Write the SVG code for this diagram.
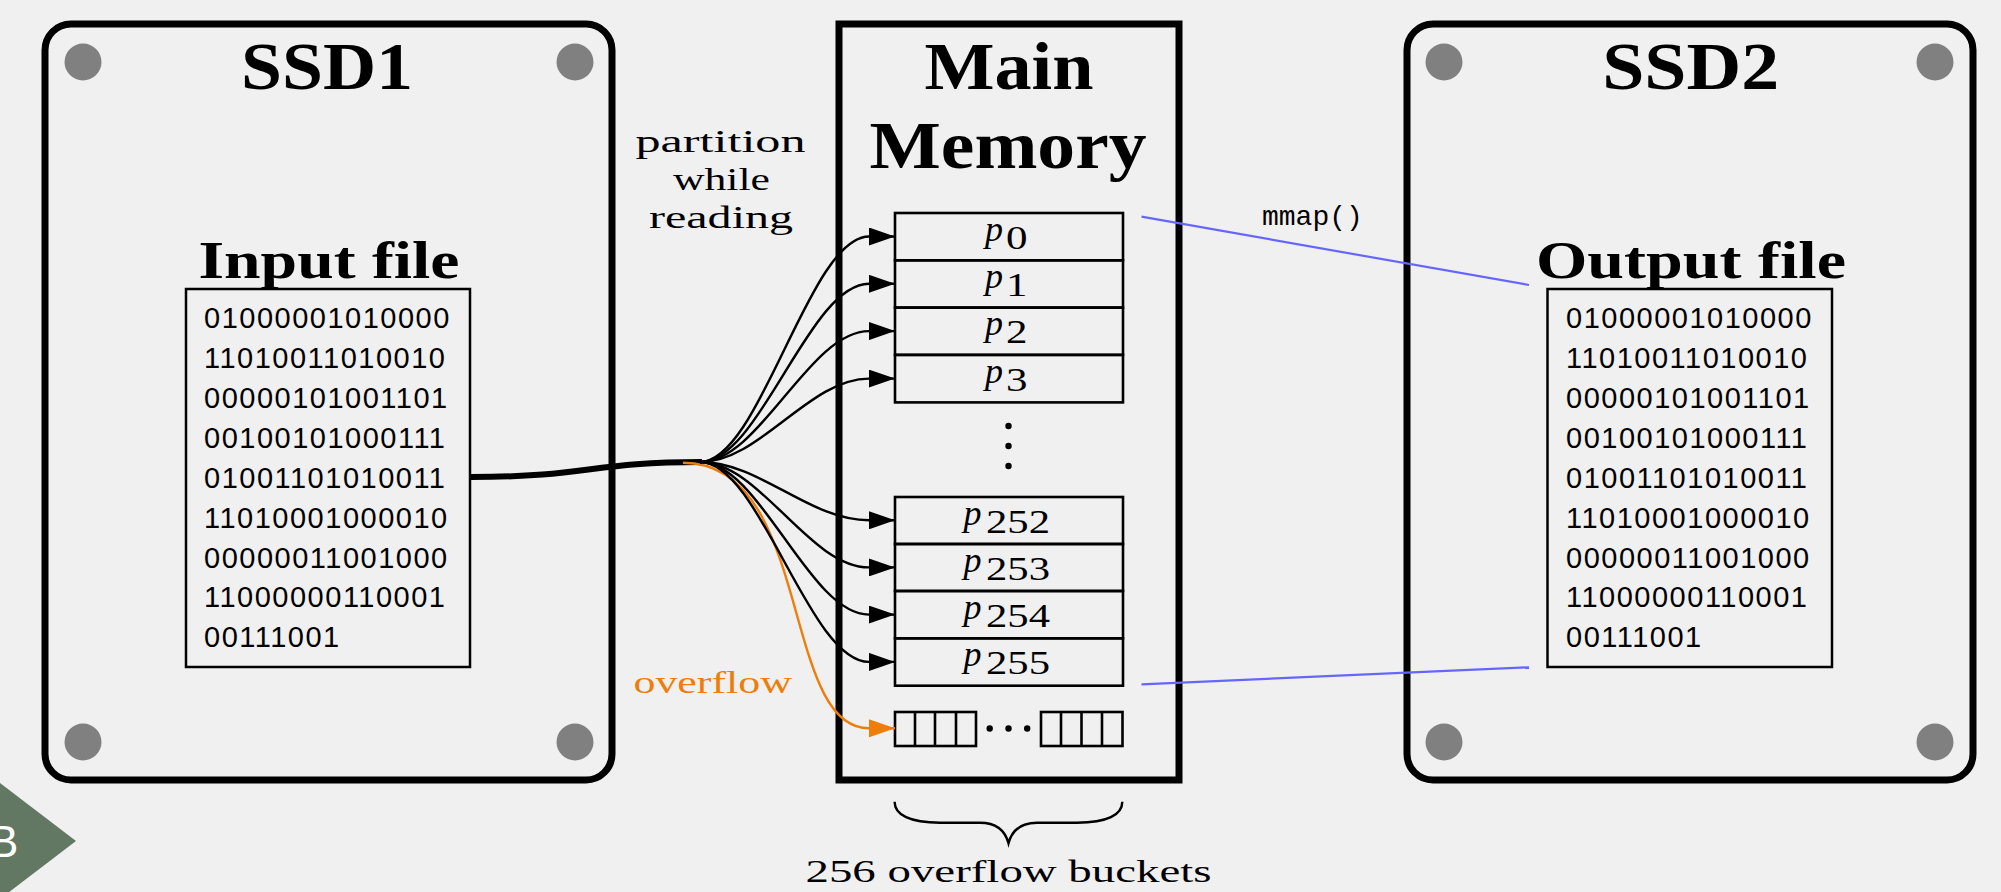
<svg xmlns="http://www.w3.org/2000/svg" width="2001" height="892" viewBox="0 0 2001 892">
  <style>
    .bg { fill: #f0f0f0; }
    .drive { fill: #f0f0f0; stroke: #000; stroke-width: 7; }
    .screw { fill: #808080; }
    .file { fill: none; stroke: #000; stroke-width: 2.5; }
    .cell { fill: none; stroke: #000; stroke-width: 2.6; }
    .title { font-family: "Liberation Serif", serif; font-weight: bold; font-size: 68px; fill: #000; }
    .sub { font-family: "Liberation Serif", serif; font-weight: bold; font-size: 53px; fill: #000; }
    .bits { font-family: "Liberation Sans", Arial, sans-serif; font-size: 29px; letter-spacing: 1.5px; fill: #000; }
    .note { font-family: "Liberation Serif", serif; font-size: 32px; fill: #000; }
    .pv { font-family: "Liberation Serif", serif; font-style: italic; font-size: 36px; fill: #000; }
    .ps { font-family: "Liberation Serif", serif; font-size: 33px; fill: #000; }
    .mono { font-family: "Liberation Mono", "Courier New", monospace; font-size: 28px; fill: #000; }
    .fan { fill: none; stroke: #000; stroke-width: 2.4; }
    .ovf { fill: none; stroke: #ee7d0a; stroke-width: 2.4; }
    .map { fill: none; stroke: #6666ff; stroke-width: 2.2; }
  </style>
  <defs>
    <marker id="head" markerUnits="userSpaceOnUse" markerWidth="26" markerHeight="18" refX="26" refY="9" orient="auto">
      <path d="M0,0 L26,9 L0,18 Z" fill="#000"/>
    </marker>
    <marker id="head-orange" markerUnits="userSpaceOnUse" markerWidth="26" markerHeight="18" refX="26" refY="9" orient="auto">
      <path d="M0,0 L26,9 L0,18 Z" fill="#ee7d0a"/>
    </marker>
  </defs>

  <rect class="bg" x="0" y="0" width="2001" height="892"/>

  <!-- slide corner tab -->
  <g id="corner-tab">
    <polygon points="0,783 76,841 0,899" fill="#637863"/>
    <text x="-11" y="857" font-family="Liberation Sans, Arial, sans-serif" font-size="44" fill="#fff">B</text>
  </g>

  <!-- source drive -->
  <g id="ssd1">
    <rect class="drive" x="45" y="24" width="567" height="756" rx="26" ry="26"/>
    <circle class="screw" cx="83" cy="62" r="18.5"/>
    <circle class="screw" cx="575" cy="62" r="18.5"/>
    <circle class="screw" cx="83" cy="742" r="18.5"/>
    <circle class="screw" cx="575" cy="742" r="18.5"/>
    <text class="title" x="327" y="89" text-anchor="middle" textLength="172" lengthAdjust="spacingAndGlyphs">SSD1</text>
  </g>

  <g id="input-file">
    <text class="sub" x="329" y="278" text-anchor="middle" textLength="261" lengthAdjust="spacingAndGlyphs">Input file</text>
    <rect class="file" x="186" y="289" width="284" height="378"/>
    <text class="bits" x="204" y="328">01000001010000</text>
    <text class="bits" x="204" y="368">11010011010010</text>
    <text class="bits" x="204" y="408">00000101001101</text>
    <text class="bits" x="204" y="448">00100101000111</text>
    <text class="bits" x="204" y="488">01001101010011</text>
    <text class="bits" x="204" y="528">11010001000010</text>
    <text class="bits" x="204" y="568">00000011001000</text>
    <text class="bits" x="204" y="607">11000000110001</text>
    <text class="bits" x="204" y="647">00111001</text>
  </g>

  <!-- main memory -->
  <g id="main-memory">
    <rect class="drive" x="839" y="24" width="340" height="756"/>
    <text class="title" x="1009" y="89" text-anchor="middle" textLength="169" lengthAdjust="spacingAndGlyphs">Main</text>
    <text class="title" x="1008" y="168" text-anchor="middle" textLength="277" lengthAdjust="spacingAndGlyphs">Memory</text>
  </g>

  <g id="partitions">
    <rect class="cell" x="895" y="213" width="228" height="47.3"/>
    <rect class="cell" x="895" y="260.3" width="228" height="47.3"/>
    <rect class="cell" x="895" y="307.6" width="228" height="47.3"/>
    <rect class="cell" x="895" y="354.9" width="228" height="47.5"/>
    <text class="pv" x="985" y="240.5">p</text><text class="ps" x="1006" y="248.5" textLength="21.5" lengthAdjust="spacingAndGlyphs">0</text>
    <text class="pv" x="985" y="287.8">p</text><text class="ps" x="1006" y="295.8" textLength="21.5" lengthAdjust="spacingAndGlyphs">1</text>
    <text class="pv" x="985" y="335.1">p</text><text class="ps" x="1006" y="343.1" textLength="21.5" lengthAdjust="spacingAndGlyphs">2</text>
    <text class="pv" x="985" y="382.6">p</text><text class="ps" x="1006" y="390.6" textLength="21.5" lengthAdjust="spacingAndGlyphs">3</text>

    <circle cx="1008.5" cy="426" r="3.2"/>
    <circle cx="1008.5" cy="446" r="3.2"/>
    <circle cx="1008.5" cy="466" r="3.2"/>

    <rect class="cell" x="895" y="497" width="228" height="47"/>
    <rect class="cell" x="895" y="544" width="228" height="47"/>
    <rect class="cell" x="895" y="591" width="228" height="47.3"/>
    <rect class="cell" x="895" y="638.3" width="228" height="47.4"/>
    <text class="pv" x="963.5" y="524.5">p</text><text class="ps" x="986" y="532.5" textLength="64" lengthAdjust="spacingAndGlyphs">252</text>
    <text class="pv" x="963.5" y="571.5">p</text><text class="ps" x="986" y="579.5" textLength="64" lengthAdjust="spacingAndGlyphs">253</text>
    <text class="pv" x="963.5" y="618.7">p</text><text class="ps" x="986" y="626.7" textLength="64" lengthAdjust="spacingAndGlyphs">254</text>
    <text class="pv" x="963.5" y="666">p</text><text class="ps" x="986" y="674" textLength="64" lengthAdjust="spacingAndGlyphs">255</text>
  </g>

  <g id="overflow-buckets">
    <rect class="cell" x="895" y="712" width="81" height="34"/>
    <line class="cell" x1="915" y1="712" x2="915" y2="746"/>
    <line class="cell" x1="935" y1="712" x2="935" y2="746"/>
    <line class="cell" x1="956" y1="712" x2="956" y2="746"/>
    <circle cx="989.7" cy="728.5" r="3.2"/>
    <circle cx="1008.5" cy="728.5" r="3.2"/>
    <circle cx="1027.2" cy="728.5" r="3.2"/>
    <rect class="cell" x="1041" y="712" width="81.5" height="34"/>
    <line class="cell" x1="1061" y1="712" x2="1061" y2="746"/>
    <line class="cell" x1="1081.5" y1="712" x2="1081.5" y2="746"/>
    <line class="cell" x1="1102" y1="712" x2="1102" y2="746"/>
    <path d="M894.6,801.7 C894.6,815 910,822.7 940,822.7 L980,822.7 C995,822.7 1005,830 1008.5,843.3 C1012,830 1022,822.7 1037,822.7 L1077,822.7 C1107,822.7 1122.3,815 1122.3,801.7" fill="none" stroke="#000" stroke-width="2.4"/>
    <text class="note" x="1008.5" y="881.5" text-anchor="middle" textLength="406" lengthAdjust="spacingAndGlyphs">256 overflow buckets</text>
  </g>

  <!-- destination drive -->
  <g id="ssd2">
    <rect class="drive" x="1407" y="24" width="566" height="756" rx="26" ry="26"/>
    <circle class="screw" cx="1444" cy="62" r="18.5"/>
    <circle class="screw" cx="1935" cy="62" r="18.5"/>
    <circle class="screw" cx="1444" cy="742" r="18.5"/>
    <circle class="screw" cx="1935" cy="742" r="18.5"/>
    <text class="title" x="1690.7" y="89" text-anchor="middle" textLength="177" lengthAdjust="spacingAndGlyphs">SSD2</text>
  </g>

  <g id="output-file">
    <text class="sub" x="1691" y="278" text-anchor="middle" textLength="310" lengthAdjust="spacingAndGlyphs">Output file</text>
    <rect class="file" x="1547.5" y="289" width="284.5" height="378"/>
    <text class="bits" x="1566" y="328">01000001010000</text>
    <text class="bits" x="1566" y="368">11010011010010</text>
    <text class="bits" x="1566" y="408">00000101001101</text>
    <text class="bits" x="1566" y="448">00100101000111</text>
    <text class="bits" x="1566" y="488">01001101010011</text>
    <text class="bits" x="1566" y="528">11010001000010</text>
    <text class="bits" x="1566" y="568">00000011001000</text>
    <text class="bits" x="1566" y="607">11000000110001</text>
    <text class="bits" x="1566" y="647">00111001</text>
  </g>

  <!-- connectors -->
  <g id="connectors">
    <path d="M471,477 C590,477 590,462 702,462" fill="none" stroke="#000" stroke-width="6"/>
    <path class="ovf" d="M683,462.7 C813,462.7 780,728.3 869,728.3 L895,728.3" marker-end="url(#head-orange)"/>
    <path class="fan" d="M700,462 C760,462 809,236.5 869,236.5 L895,236.5" marker-end="url(#head)"/>
    <path class="fan" d="M700,462 C760,462 809,283.8 869,283.8 L895,283.8" marker-end="url(#head)"/>
    <path class="fan" d="M700,462 C760,462 809,331.1 869,331.1 L895,331.1" marker-end="url(#head)"/>
    <path class="fan" d="M700,462 C760,462 809,378.6 869,378.6 L895,378.6" marker-end="url(#head)"/>
    <path class="fan" d="M700,462 C760,462 809,520.3 869,520.3 L895,520.3" marker-end="url(#head)"/>
    <path class="fan" d="M700,462 C760,462 809,567.4 869,567.4 L895,567.4" marker-end="url(#head)"/>
    <path class="fan" d="M700,462 C760,462 809,614.6 869,614.6 L895,614.6" marker-end="url(#head)"/>
    <path class="fan" d="M700,462 C760,462 809,661.9 869,661.9 L895,661.9" marker-end="url(#head)"/>
    <line class="map" x1="1141.5" y1="216.7" x2="1529" y2="285"/>
    <line class="map" x1="1141.5" y1="684.3" x2="1529" y2="667.3"/>
  </g>

  <g id="labels">
    <text class="note" x="720.5" y="152" text-anchor="middle" textLength="170" lengthAdjust="spacingAndGlyphs">partition</text>
    <text class="note" x="721.5" y="190" text-anchor="middle" textLength="97" lengthAdjust="spacingAndGlyphs">while</text>
    <text class="note" x="721" y="228" text-anchor="middle" textLength="144" lengthAdjust="spacingAndGlyphs">reading</text>
    <text class="note" x="712.7" y="693.3" text-anchor="middle" textLength="158.5" lengthAdjust="spacingAndGlyphs" style="fill:#ee7d0a">overflow</text>
    <text class="mono" x="1262" y="225">mmap()</text>
  </g>
</svg>
